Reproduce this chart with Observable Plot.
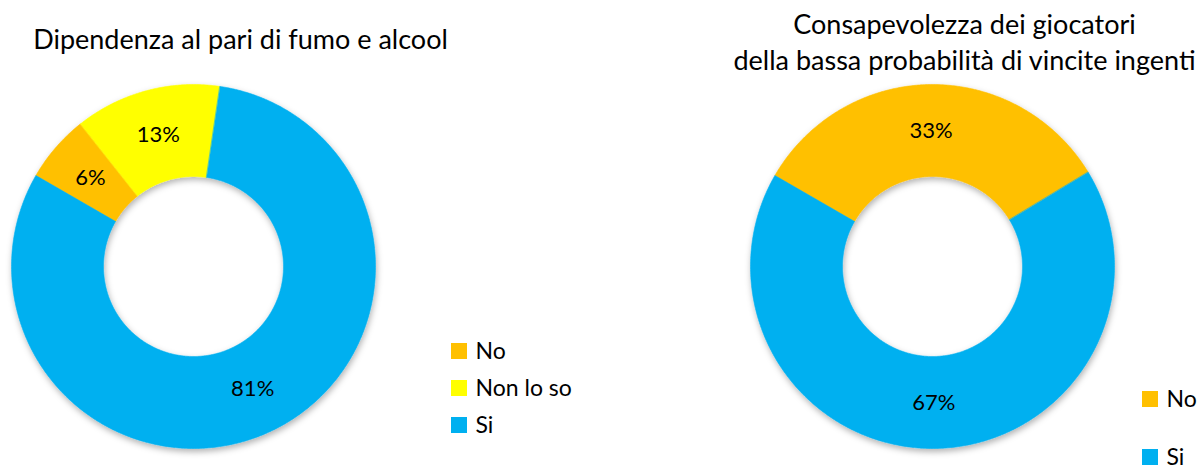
<!DOCTYPE html>
<html>
<head>
<meta charset="utf-8">
<script src="https://cdn.jsdelivr.net/npm/d3@7"></script>
<script src="https://cdn.jsdelivr.net/npm/@observablehq/plot@0.6"></script>
<style>
  html, body { margin: 0; padding: 0; background: #fff; }
  #chart svg { display: block; }
</style>
</head>
<body>
<div id="chart"></div>
<script>
// Survey answers shown as two donut charts
const leftTitle = ["Dipendenza al pari di fumo e alcool"];
const leftCategories = ["No", "Non lo so", "Si"];
const leftValues = [6, 13, 81];

const rightTitle = ["Consapevolezza dei giocatori", "della bassa probabilità di vincite ingenti"];
const rightCategories = ["No", "Si"];
const rightValues = [33, 67];

const categoryDomain = ["No", "Non lo so", "Si"];
const categoryColors = ["#FFC000", "#FFFF00", "#00B0F0"];

// Canvas and layout (pixels)
const W = 1203, H = 465;
const FONT = "Lato, 'Open Sans', sans-serif";
const outerR = 182, innerR = 90;
const startAngle = 300; // degrees clockwise from 12 o'clock

const charts = [
  {id: "left", title: leftTitle, cats: leftCategories, vals: leftValues,
   cx: 193, cy: 266, titleX: 240, titleY: 48,
   legendX: 451, legendY: 351, legendStep: 37},
  {id: "right", title: rightTitle, cats: rightCategories, vals: rightValues,
   cx: 932, cy: 266, titleX: 964, titleY: 33,
   legendX: 1142, legendY: 399, legendStep: 58}
];

const rad = a => a * Math.PI / 180;
const polar = (c, r, a) => ({x: c.cx + r * Math.sin(rad(a)), y: c.cy - r * Math.cos(rad(a))});

const arcPoints = [];
const labels = [];
const swatches = [];
const legendText = [];
const titles = [];

for (const c of charts) {
  const total = d3.sum(c.vals);
  let a0 = startAngle;
  c.cats.forEach((cat, i) => {
    const span = c.vals[i] / total * 360;
    const a1 = a0 + span;
    const key = c.id + ":" + cat;
    const n = Math.max(2, Math.ceil(span / 0.5));
    for (let k = 0; k <= n; k++) {
      const p = polar(c, outerR, a0 + span * k / n);
      arcPoints.push({key, category: cat, ...p});
    }
    for (let k = n; k >= 0; k--) {
      const p = polar(c, innerR, a0 + span * k / n);
      arcPoints.push({key, category: cat, ...p});
    }
    const m = polar(c, (outerR + innerR) / 2, (a0 + a1) / 2);
    labels.push({...m, text: c.vals[i] + "%"});
    const ly = c.legendY + i * c.legendStep;
    swatches.push({category: cat, x1: c.legendX, x2: c.legendX + 16, y1: ly - 8, y2: ly + 8});
    legendText.push({x: c.legendX + 24, y: ly, text: cat});
    a0 = a1;
  });
  c.title.forEach((t, j) => titles.push({x: c.titleX, y: c.titleY + j * 36, text: t}));
}

const plot = Plot.plot({
  width: W,
  height: H,
  margin: 0,
  style: {fontFamily: FONT, background: "#fff"},
  x: {domain: [0, W], range: [0, W], axis: null},
  y: {domain: [0, H], range: [0, H], axis: null},
  color: {domain: categoryDomain, range: categoryColors},
  marks: [
    Plot.line(arcPoints, {x: "x", y: "y", z: "key", fill: "category", stroke: "category",
      strokeWidth: 0.6, curve: "linear-closed"}),
    Plot.text(labels, {x: "x", y: "y", text: "text", fontSize: 22, fill: "#000", fontFamily: FONT}),
    Plot.rect(swatches, {x1: "x1", x2: "x2", y1: "y1", y2: "y2", fill: "category"}),
    Plot.text(legendText, {x: "x", y: "y", text: "text", textAnchor: "start", fontSize: 23,
      fill: "#000", fontFamily: FONT}),
    Plot.text(titles, {x: "x", y: "y", text: "text", lineAnchor: "bottom", fontSize: 27,
      fill: "#000", fontFamily: FONT})
  ]
});

// Soft drop shadow under the rings
const ns = "http://www.w3.org/2000/svg";
const defs = document.createElementNS(ns, "defs");
defs.innerHTML = '<filter id="ring-shadow" x="-10%" y="-10%" width="120%" height="125%">' +
  '<feDropShadow dx="1" dy="3" stdDeviation="3" flood-color="#000" flood-opacity="0.3"/></filter>';
plot.insertBefore(defs, plot.firstChild);
const ringGroup = plot.querySelector('g[aria-label="line"]');
if (ringGroup) ringGroup.setAttribute("filter", "url(#ring-shadow)");

document.getElementById("chart").append(plot);
</script>
</body>
</html>
